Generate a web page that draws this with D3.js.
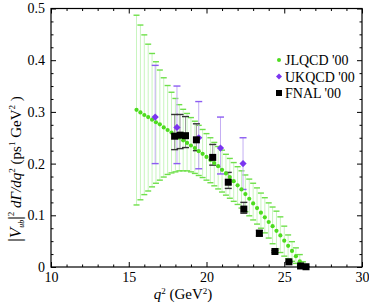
<!DOCTYPE html>
<html><head><meta charset="utf-8">
<script src="https://cdn.jsdelivr.net/npm/d3@7"></script>
<style>body{margin:0;background:#fff}svg{display:block}</style>
</head><body><svg id="c" width="369" height="305" style="font-family:'Liberation Serif','DejaVu Serif',serif"></svg>
<script>
// JLQCD '00 (band: central, lower, upper)
const jlQ2 = [15.5,15.75,16.0,16.25,16.5,16.75,17.0,17.25,17.5,17.75,18.0,18.25,18.5,18.75,19.0,19.25,19.5,19.75,20.0,20.25,20.5,20.75,21.0,21.25,21.5,21.75,22.0,22.25,22.5,22.75,23.0,23.25,23.5,23.75,24.0,24.25,24.5,24.75,25.0,25.25,25.5,25.75,26.0,26.2];
const jlVal = [0.304,0.299,0.294,0.290,0.285,0.280,0.276,0.270,0.265,0.260,0.255,0.250,0.245,0.240,0.235,0.230,0.224,0.219,0.213,0.207,0.201,0.195,0.188,0.181,0.174,0.166,0.158,0.150,0.141,0.132,0.123,0.114,0.105,0.096,0.087,0.079,0.070,0.061,0.051,0.041,0.031,0.021,0.011,0.002];
const jlLo  = [0.120,0.130,0.140,0.147,0.155,0.162,0.168,0.174,0.179,0.182,0.184,0.186,0.186,0.186,0.184,0.181,0.177,0.173,0.168,0.163,0.157,0.151,0.145,0.139,0.133,0.127,0.121,0.114,0.107,0.099,0.091,0.083,0.075,0.066,0.056,0.045,0.035,0.028,0.021,0.016,0.011,0.007,0.004,0.000];
const jlHi  = [0.487,0.468,0.449,0.431,0.413,0.397,0.381,0.366,0.351,0.338,0.326,0.314,0.305,0.297,0.289,0.282,0.274,0.266,0.258,0.250,0.241,0.233,0.226,0.218,0.210,0.202,0.194,0.186,0.178,0.170,0.162,0.153,0.143,0.134,0.124,0.116,0.108,0.097,0.079,0.062,0.049,0.037,0.024,0.010];
// UKQCD '00
const ukQ2  = [16.7,18.1,19.5,20.9,22.35];
const ukVal = [0.29,0.27,0.25,0.23,0.20];
const ukLo  = [0.20,0.20,0.19,0.18,0.15];
const ukHi  = [0.39,0.35,0.32,0.29,0.25];
// FNAL '00
const fnQ2  = [17.95,18.3,18.65,19.35,20.4,21.4,22.4,23.4,24.4,25.3,26.05,26.4];
const fnVal = [0.253,0.255,0.254,0.246,0.212,0.164,0.112,0.065,0.030,0.010,0.002,0.0005];
const fnLo  = [0.227,0.229,0.231,0.225,0.197,0.152,0.104,0.060,0.028,0.009,0.0015,0.0003];
const fnHi  = [0.295,0.295,0.291,0.277,0.237,0.183,0.125,0.071,0.032,0.011,0.0025,0.0007];
// axes
const xTicks = [10,15,20,25,30];
const xMinor = [11,12,13,14,16,17,18,19,21,22,23,24,26,27,28,29];
const yTicks = [0,0.1,0.2,0.3,0.4,0.5];
const yTickLabels = ["0","0.1","0.2","0.3","0.4","0.5"];
const yMinor = [0.025,0.05,0.075,0.125,0.15,0.175,0.225,0.25,0.275,0.325,0.35,0.375,0.425,0.45,0.475];
const legendNames = ["JLQCD '00","UKQCD '00","FNAL '00"];

const FONT = "'Liberation Serif','DejaVu Serif',serif";
const svg = d3.select("#c");
const L=51,R=362,T=8.5,B=267;
const x = d3.scaleLinear().domain([10,30]).range([L,R]);
const y = d3.scaleLinear().domain([0,0.5]).range([B,T]);

function rows(q,v,lo,hi){return q.map((d,i)=>({q:d,v:v[i],lo:lo[i],hi:hi[i]}));}
const jl = rows(jlQ2,jlVal,jlLo,jlHi), uk = rows(ukQ2,ukVal,ukLo,ukHi), fn = rows(fnQ2,fnVal,fnLo,fnHi);

function errbars(data,lineCol,capCol,capW,capSW){
  const g = svg.append("g");
  g.selectAll("line.v").data(data).join("line").attr("x1",d=>x(d.q)).attr("x2",d=>x(d.q))
    .attr("y1",d=>y(d.lo)).attr("y2",d=>y(d.hi)).attr("stroke",lineCol).attr("stroke-width",1);
  ["lo","hi"].forEach(k=>{
    g.selectAll("line."+k).data(data).join("line").attr("x1",d=>x(d.q)-capW/2).attr("x2",d=>x(d.q)+capW/2)
      .attr("y1",d=>y(d[k])).attr("y2",d=>y(d[k])).attr("stroke",capCol).attr("stroke-width",capSW);
  });
}
errbars(jl,"#c9f5bf","#6fe04a",6,1.4);
errbars(uk,"#c4aef3","#8c5cf2",7,1.4);
errbars(fn,"#9a9a9a","#333",7,1.4);

svg.append("g").selectAll("circle").data(jl).join("circle").attr("cx",d=>x(d.q)).attr("cy",d=>y(d.v)).attr("r",2.1).attr("fill","#4ddc1e");
const diamond = s=>`M0,${-s}L${s},0L0,${s}L${-s},0Z`;
svg.append("g").selectAll("path").data(uk).join("path").attr("transform",d=>`translate(${x(d.q)},${y(d.v)})`).attr("d",diamond(3.6)).attr("fill","#7a35f0");
svg.append("g").selectAll("rect").data(fn).join("rect").attr("x",d=>x(d.q)-3.5).attr("y",d=>y(d.v)-3.5).attr("width",7).attr("height",7).attr("fill","#000");

// frame and ticks
svg.append("rect").attr("x",L).attr("y",T).attr("width",R-L).attr("height",B-T).attr("fill","none").attr("stroke","#000").attr("stroke-width",1.2);
function ticksAx(axis,tr,vals,size){
  const g=svg.append("g").attr("transform",tr).call(axis.tickValues(vals).tickSizeInner(size).tickSizeOuter(0).tickFormat(""));
  g.select(".domain").remove(); g.selectAll("line").attr("stroke","#000");
}
ticksAx(d3.axisBottom(x),`translate(0,${B})`,xTicks,-5); ticksAx(d3.axisBottom(x),`translate(0,${B})`,xMinor,-2.5);
ticksAx(d3.axisTop(x),`translate(0,${T})`,xTicks,-5); ticksAx(d3.axisTop(x),`translate(0,${T})`,xMinor,-2.5);
ticksAx(d3.axisLeft(y),`translate(${L},0)`,yTicks,-5); ticksAx(d3.axisLeft(y),`translate(${L},0)`,yMinor,-2.5);
ticksAx(d3.axisRight(y),`translate(${R},0)`,yTicks,-5); ticksAx(d3.axisRight(y),`translate(${R},0)`,yMinor,-2.5);

// labels
const gx=svg.append("g").attr("transform",`translate(0,${B})`).call(d3.axisBottom(x).tickValues(xTicks).tickSize(0).tickPadding(5).tickFormat(d3.format("d")));
gx.attr("font-family",FONT).attr("font-size",14);
gx.select(".domain").remove(); gx.selectAll("text").attr("fill","#000");
const gy=svg.append("g").attr("transform",`translate(${L},0)`).call(d3.axisLeft(y).tickValues(yTicks).tickSize(0).tickPadding(6).tickFormat((d,i)=>yTickLabels[i]));
gy.attr("font-family",FONT).attr("font-size",14);
gy.select(".domain").remove(); gy.selectAll("text").attr("fill","#000");

// x title
const xt=svg.append("text").attr("x",183).attr("y",299).attr("text-anchor","middle").attr("font-family",FONT).attr("font-size",15);
xt.append("tspan").attr("font-style","italic").text("q");
xt.append("tspan").attr("font-size",9).attr("dy",-5).text("2");
xt.append("tspan").attr("dy",5).text(" (GeV");
xt.append("tspan").attr("font-size",9).attr("dy",-5).text("2");
xt.append("tspan").attr("dy",5).text(")");

// y title
const yt=svg.append("text").attr("transform","translate(21,169) rotate(-90)").attr("text-anchor","middle").attr("font-family",FONT).attr("font-size",15);
yt.append("tspan").attr("font-size",18).text("|");
yt.append("tspan").attr("font-style","italic").attr("font-size",17).text("V");
yt.append("tspan").attr("font-size",8).attr("font-style","italic").attr("dy",3).text("ub");
yt.append("tspan").attr("font-size",18).attr("dy",-3).text("|");
yt.append("tspan").attr("font-size",9).attr("dy",-7).text("2");
yt.append("tspan").attr("dy",7).attr("font-style","italic").text(" dΓ/dq");
yt.append("tspan").attr("font-size",9).attr("dy",-6).text("2");
yt.append("tspan").attr("dy",6).text(" (ps");
yt.append("tspan").attr("font-size",9).attr("dy",-6).text("1");
yt.append("tspan").attr("dy",6).text("  GeV");
yt.append("tspan").attr("font-size",9).attr("dy",-6).text("2");
yt.append("tspan").attr("dy",6).text(" )");

// legend
const lg=svg.append("g").attr("font-family",FONT);
const ly=[60,76.5,93];
lg.append("circle").attr("cx",279).attr("cy",ly[0]).attr("r",2).attr("fill","#4ddc1e");
lg.append("path").attr("transform",`translate(279,${ly[1]})`).attr("d",diamond(3)).attr("fill","#7a35f0");
lg.append("rect").attr("x",276).attr("y",ly[2]-3).attr("width",6).attr("height",6).attr("fill","#000");
legendNames.forEach((n,i)=>lg.append("text").attr("x",285).attr("y",ly[i]+5).attr("font-size",14).text(n));
</script></body></html>
